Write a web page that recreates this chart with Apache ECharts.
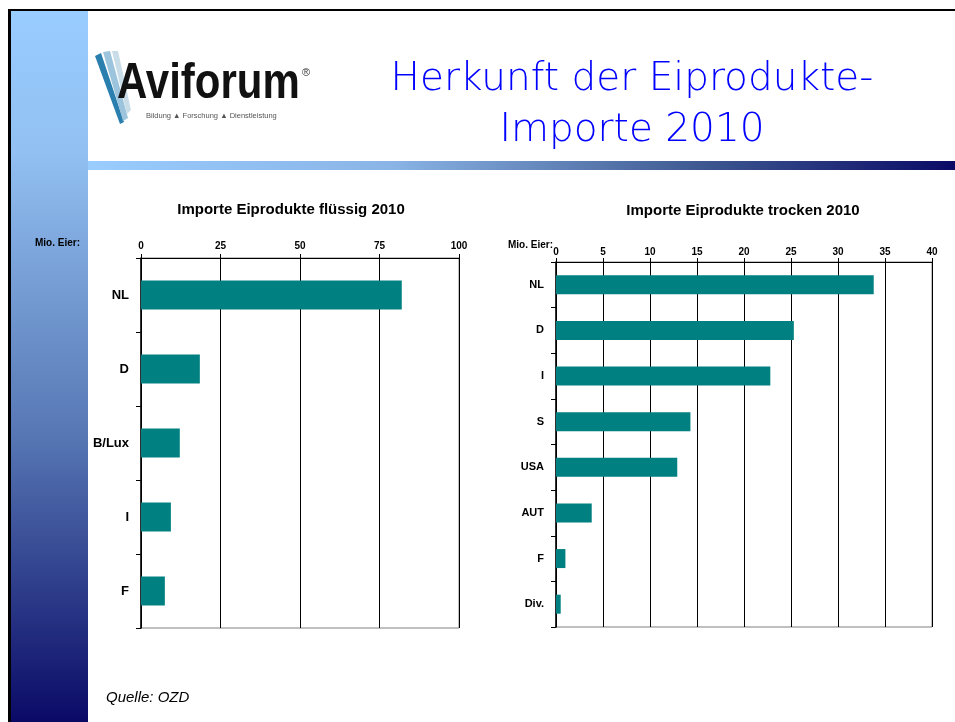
<!DOCTYPE html>
<html>
<head>
<meta charset="utf-8">
<script src="https://cdn.jsdelivr.net/npm/echarts@6/dist/echarts.min.js"></script>
<style>
  html, body { margin: 0; padding: 0; background: #fff; }
  #main { width: 955px; height: 722px; }
</style>
</head>
<body>
<div id="main"></div>
<script>
// flüssig
const fluessigLaender = ["NL", "D", "B/Lux", "I", "F"];
const fluessigWerte = [82, 18.5, 12.2, 9.4, 7.5];
const fluessigTicks = [0, 25, 50, 75, 100];
// trocken
const trockenLaender = ["NL", "D", "I", "S", "USA", "AUT", "F", "Div."];
const trockenWerte = [33.8, 25.3, 22.8, 14.3, 12.9, 3.8, 1.0, 0.5];
const trockenTicks = [0, 5, 10, 15, 20, 25, 30, 35, 40];

const teal = "#008080";
const fontFam = "Liberation Sans, Arial, sans-serif";

let myChart = echarts.init(document.getElementById("main"));

const xAxisStyle = (ticks) => ({
  type: "value",
  position: "top",
  min: ticks[0],
  max: ticks[ticks.length - 1],
  interval: ticks[1] - ticks[0],
  axisLine: { show: true, lineStyle: { color: "#000", width: 1 } },
  axisTick: { show: true, length: 4, lineStyle: { color: "#000" } },
  axisLabel: { color: "#000", fontSize: 10, fontWeight: "bold", fontFamily: fontFam, margin: 7 },
  splitLine: { show: true, lineStyle: { color: "#000", width: 1 } }
});

const yAxisStyle = (cats, fs) => ({
  type: "category",
  inverse: true,
  data: cats,
  axisLine: { show: true, lineStyle: { color: "#000", width: 1.5 } },
  axisTick: { show: true, length: 5, lineStyle: { color: "#000" } },
  axisLabel: { color: "#000", fontSize: fs, fontWeight: "bold", fontFamily: fontFam, margin: 12 }
});

let option = {
  animation: false,
  backgroundColor: "#fff",
  graphic: [
    // linker Balken
    {
      type: "rect", shape: { x: 11, y: 11, width: 77, height: 711 }, silent: true,
      style: {
        fill: new echarts.graphic.LinearGradient(0, 0, 0, 1, [
          { offset: 0, color: "#99ccff" },
          { offset: 0.2, color: "#92c0f2" },
          { offset: 0.6, color: "#5676b3" },
          { offset: 1, color: "#0a0a66" }
        ])
      }
    },
    // Rahmen
    { type: "rect", shape: { x: 8, y: 9, width: 3, height: 713 }, style: { fill: "#000" }, silent: true },
    { type: "rect", shape: { x: 8, y: 9, width: 947, height: 2 }, style: { fill: "#000" }, silent: true },
    // Linie unter Titel
    {
      type: "rect", shape: { x: 88, y: 161, width: 867, height: 9 }, silent: true,
      style: {
        fill: new echarts.graphic.LinearGradient(0, 0, 1, 0, [
          { offset: 0, color: "#99ccff" },
          { offset: 0.35, color: "#8ab4e6" },
          { offset: 0.7, color: "#3f5a92" },
          { offset: 1, color: "#0a0a66" }
        ])
      }
    },
    // Logo
    { type: "polygon", shape: { points: [[95, 56], [101, 53], [124, 122], [120, 124]] }, style: { fill: "#2a7fae" }, silent: true },
    { type: "polygon", shape: { points: [[103, 52], [110, 51], [128, 118], [123, 121]] }, style: { fill: "#9cc4dc" }, silent: true },
    { type: "polygon", shape: { points: [[112, 51], [118, 51], [131, 110], [127, 114]] }, style: { fill: "#c9dde9" }, silent: true },
    {
      type: "text", x: 117, y: 109, scaleX: 0.84, silent: true,
      style: { text: "Aviforum", font: "bold 50px Liberation Sans", fill: "#111", textVerticalAlign: "bottom" }
    },
    {
      type: "text", x: 302, y: 67, silent: true,
      style: { text: "®", font: "11px Liberation Sans", fill: "#333" }
    },
    {
      type: "text", x: 146, y: 112, silent: true,
      style: { text: "Bildung ▲ Forschung ▲ Dienstleistung", font: "7.5px Liberation Sans", fill: "#555" }
    },
    // Haupttitel
    {
      type: "text", x: 632, y: 54, silent: true,
      style: {
        text: "Herkunft der Eiprodukte-\nImporte 2010", font: "200 39px DejaVu Sans",
        fill: "#0000ff", textAlign: "center", lineHeight: 51
      }
    },
    // Diagrammtitel
    {
      type: "text", x: 291, y: 210, silent: true,
      style: { text: "Importe Eiprodukte flüssig 2010", font: "bold 15px Liberation Sans", fill: "#000", textAlign: "center", textVerticalAlign: "middle" }
    },
    {
      type: "text", x: 743, y: 211, silent: true,
      style: { text: "Importe Eiprodukte trocken 2010", font: "bold 15px Liberation Sans", fill: "#000", textAlign: "center", textVerticalAlign: "middle" }
    },
    {
      type: "text", x: 80, y: 243, silent: true,
      style: { text: "Mio. Eier:", font: "bold 10px Liberation Sans", fill: "#000", textAlign: "right", textVerticalAlign: "middle" }
    },
    {
      type: "text", x: 553, y: 245, silent: true,
      style: { text: "Mio. Eier:", font: "bold 10px Liberation Sans", fill: "#000", textAlign: "right", textVerticalAlign: "middle" }
    },
    {
      type: "text", x: 106, y: 698, silent: true,
      style: { text: "Quelle: OZD", font: "italic 15px Liberation Sans", fill: "#000", textVerticalAlign: "middle" }
    }
  ],
  grid: [
    { left: 141, top: 258, width: 318, height: 370, show: true, borderColor: "#808080", borderWidth: 1, backgroundColor: "transparent" },
    { left: 556, top: 262, width: 376, height: 365, show: true, borderColor: "#808080", borderWidth: 1, backgroundColor: "transparent" }
  ],
  xAxis: [
    Object.assign(xAxisStyle(fluessigTicks), { gridIndex: 0 }),
    Object.assign(xAxisStyle(trockenTicks), { gridIndex: 1, axisLabel: { color: "#000", fontSize: 10, fontWeight: "bold", fontFamily: fontFam, margin: 5 } })
  ],
  yAxis: [
    Object.assign(yAxisStyle(fluessigLaender, 13), { gridIndex: 0 }),
    Object.assign(yAxisStyle(trockenLaender, 11), { gridIndex: 1 })
  ],
  series: [
    {
      type: "bar", xAxisIndex: 0, yAxisIndex: 0, data: fluessigWerte,
      barWidth: 29, itemStyle: { color: teal }, silent: true
    },
    {
      type: "bar", xAxisIndex: 1, yAxisIndex: 1, data: trockenWerte,
      barWidth: 19, itemStyle: { color: teal }, silent: true
    }
  ]
};
myChart.setOption(option);
</script>
</body>
</html>
